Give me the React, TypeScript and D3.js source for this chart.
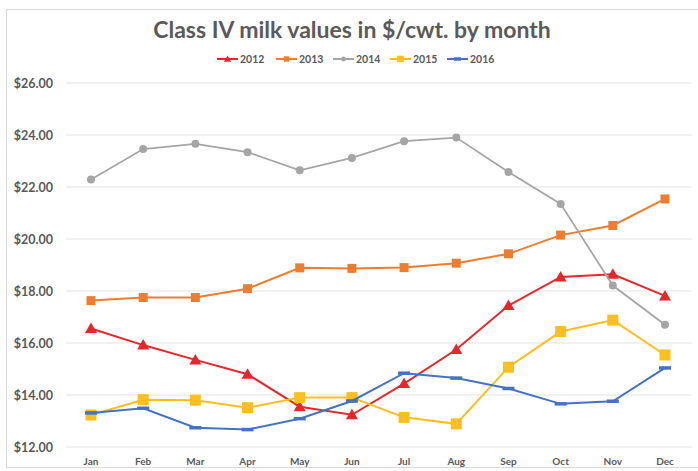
import React from "react";
import * as d3 from "d3";

const months = ["Jan","Feb","Mar","Apr","May","Jun","Jul","Aug","Sep","Oct","Nov","Dec"];
const v2012 = [16.56,15.92,15.35,14.80,13.55,13.24,14.44,15.75,17.44,18.54,18.64,17.81];
const v2013 = [17.63,17.75,17.75,18.09,18.89,18.87,18.90,19.07,19.43,20.15,20.52,21.54];
const v2014 = [22.29,23.46,23.66,23.34,22.64,23.12,23.76,23.90,22.58,21.35,18.21,16.70];
const v2015 = [13.23,13.82,13.80,13.51,13.90,13.90,13.14,12.89,15.07,16.44,16.88,15.54];
const v2016 = [13.31,13.49,12.74,12.67,13.09,13.77,14.84,14.65,14.25,13.66,13.76,15.04];
const yTicks = [12,14,16,18,20,22,24,26];

const series = [
  { name: "2012", values: v2012, color: "#e8262b", marker: "triangle" },
  { name: "2013", values: v2013, color: "#ed7d31", marker: "square" },
  { name: "2014", values: v2014, color: "#a5a5a5", marker: "circle" },
  { name: "2015", values: v2015, color: "#fdbf1e", marker: "bigsquare" },
  { name: "2016", values: v2016, color: "#4472c4", marker: "dash" },
];

function Marker({ kind, x, y, color, scale = 1 }: any) {
  if (kind === "triangle") {
    const s = 6 * scale;
    return <path d={`M${x},${y - s} L${x + s},${y + s * 0.75} L${x - s},${y + s * 0.75} Z`} fill={color} />;
  }
  if (kind === "square") {
    const s = 4.5 * scale;
    return <rect x={x - s} y={y - s} width={2 * s} height={2 * s} fill={color} />;
  }
  if (kind === "bigsquare") {
    const s = 5.5 * scale;
    return <rect x={x - s} y={y - s} width={2 * s} height={2 * s} fill={color} />;
  }
  if (kind === "circle") {
    return <circle cx={x} cy={y} r={4 * scale} fill={color} />;
  }
  return <rect x={x - 6 * scale} y={y - 1.75} width={12 * scale} height={3.5} fill={color} />;
}

export default function App() {
  const W = 698, H = 471;
  const x = d3.scalePoint<string>().domain(months).range([91, 665]);
  const y = d3.scaleLinear().domain([12, 26]).range([447, 83]);
  const line = d3.line<number>().x((_, i) => x(months[i])!).y((d) => y(d));
  const font = "Lato, 'Open Sans', sans-serif";
  const legendX = [217, 276, 333, 390, 447];

  return (
    <svg width={W} height={H} style={{ position: "fixed", left: 0, top: 0, background: "#fff" }} fontFamily={font}>
      <rect x={6.5} y={9.5} width={W} height={458} fill="#fff" stroke="#d9d9d9" strokeWidth={1} />
      <text x={352} y={38} textAnchor="middle" fontSize={23} fontWeight={700} fill="#5a5a5a">
        Class IV milk values in $/cwt. by month
      </text>
      {series.map((s, i) => (
        <g key={s.name}>
          <line x1={legendX[i]} x2={legendX[i] + 21} y1={59} y2={59} stroke={s.color} strokeWidth={2} />
          <Marker kind={s.marker} x={legendX[i] + 10.5} y={59} color={s.color} scale={0.6} />
          <text x={legendX[i] + 23} y={62.5} fontSize={10.5} fontWeight={700} fill="#595959">{s.name}</text>
        </g>
      ))}
      {yTicks.map((t) => (
        <g key={t}>
          <line x1={66} x2={692} y1={y(t)} y2={y(t)} stroke="#e3e3e3" strokeWidth={1} />
          <text x={53} y={y(t) + 4.5} textAnchor="end" fontSize={12.5} fontWeight={700} fill="#595959">
            {d3.format("$.2f")(t)}
          </text>
        </g>
      ))}
      {months.map((m) => (
        <text key={m} x={x(m)} y={465} textAnchor="middle" fontSize={10} fontWeight={700} fill="#595959">{m}</text>
      ))}
      {series.map((s) => (
        <g key={s.name}>
          <path d={line(s.values)!} fill="none" stroke={s.color} strokeWidth={s.name === "2014" ? 1.75 : 2} />
          {s.values.map((v, i) => (
            <Marker key={i} kind={s.marker} x={x(months[i])!} y={y(v)} color={s.color} />
          ))}
        </g>
      ))}
    </svg>
  );
}
